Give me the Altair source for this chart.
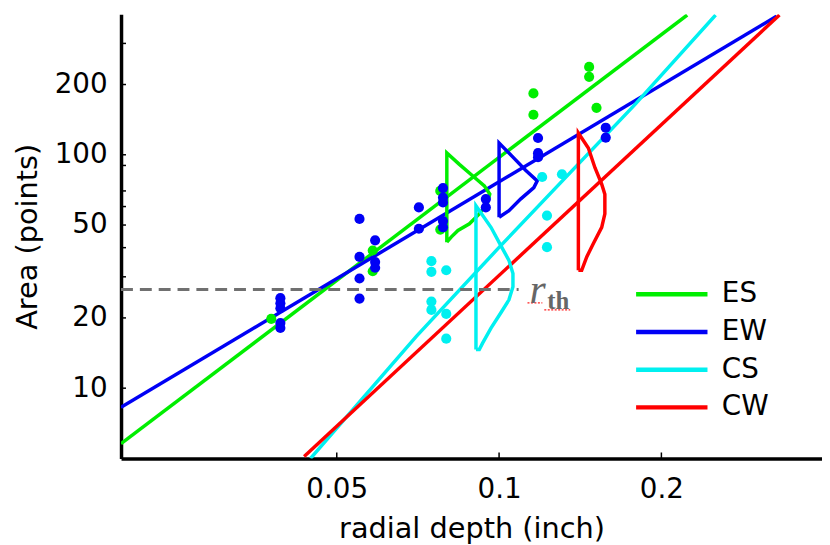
import altair as alt
import pandas as pd

FONT = "DejaVu Sans"

# ---- axes ----
x_domain = [0.0199, 0.3971]
y_domain = [5, 400]
x_label_values = [0.05, 0.1, 0.2]
y_label_values = [10, 20, 50, 100, 200]
y_tick_values = [10, 20, 30, 40, 50, 60, 70, 90, 100, 200, 300]

series_names = ["ES", "EW", "CS", "CW"]
series_colors = ["#00ee00", "#0000f5", "#00f0f0", "#ff0000"]

# ---- fitted power-law lines ----
fit_es_x = [0.0199, 0.2233]
fit_es_y = [5.78, 397.0]
fit_ew_x = [0.0199, 0.327]
fit_ew_y = [8.28, 392.0]
fit_cs_x = [0.0447, 0.0703, 0.1, 0.1784, 0.2521]
fit_cs_y = [5.0, 16.7, 40.1, 163.6, 397.0]
fit_cw_x = [0.0435, 0.3311]
fit_cw_y = [5.1, 397.0]

# ---- distribution outlines ----
dist_es_x = [0.0800, 0.0800, 0.0844, 0.0894, 0.0939, 0.0961, 0.0952, 0.0919, 0.0881, 0.0839, 0.0815, 0.0800]
dist_es_y = [42.2, 101.9, 91.0, 81.1, 73.6, 67.8, 62.5, 55.8, 50.6, 47.4, 44.4, 42.2]
dist_ew_x = [0.1000, 0.1000, 0.1061, 0.1120, 0.1177, 0.1160, 0.1096, 0.1043, 0.1000]
dist_ew_y = [54.0, 112.3, 97.7, 85.8, 77.3, 72.3, 64.6, 57.6, 54.0]
dist_cs_x = [0.0906, 0.0906, 0.0966, 0.1007, 0.1043, 0.1061, 0.1061, 0.1043, 0.1007, 0.0966, 0.0932, 0.0919, 0.0906]
dist_cs_y = [14.65, 60.5, 48.9, 40.9, 35.3, 31.0, 27.2, 23.9, 21.0, 18.1, 15.6, 14.65, 14.65]
dist_cw_x = [0.1403, 0.1403, 0.1464, 0.1506, 0.1550, 0.1571, 0.1571, 0.1550, 0.1495, 0.1454, 0.1423, 0.1403]
dist_cw_y = [32.0, 123.9, 107.0, 88.0, 74.8, 67.8, 55.8, 48.9, 41.6, 36.5, 32.0, 32.0]

# ---- measured points ----
pts_es_x = [0.0378, 0.0583, 0.0583, 0.0778, 0.0778, 0.1158, 0.1158, 0.1469, 0.1469, 0.1516]
pts_es_y = [19.8, 38.9, 31.7, 70.0, 47.8, 183.2, 148.4, 237.9, 215.8, 158.9]
pts_cs_x = [0.0749, 0.0749, 0.0798, 0.0749, 0.0749, 0.0798, 0.0798, 0.1202, 0.1308, 0.1227, 0.1227]
pts_cs_y = [35.0, 31.5, 32.0, 23.5, 21.65, 20.8, 16.3, 80.3, 82.5, 54.9, 40.2]
pts_ew_x = [0.0393, 0.0393, 0.0393, 0.0393, 0.0393,
            0.0551, 0.0551, 0.0551, 0.0551,
            0.0589, 0.0589, 0.0589,
            0.0710, 0.0710,
            0.0787, 0.0787, 0.0787, 0.0787, 0.0787,
            0.0945, 0.0945,
            0.1181, 0.1181, 0.1181,
            0.1577, 0.1577]
pts_ew_y = [24.3, 23.1, 22.0, 19.0, 18.1,
            53.1, 36.5, 29.5, 24.2,
            43.0, 34.7, 32.8,
            59.5, 48.2,
            72.0, 65.6, 62.5, 52.0, 48.9,
            64.6, 59.5,
            118.0, 101.6, 97.7,
            130.6, 118.5]

# ---- threshold ----
rth_x = [0.0199, 0.1087]
rth_y = 26.47
rth_label_x = [0.1139, 0.1229]
# red spell-check squiggles under the label
squig_x = [0.1129, 0.1213]
squig_x2 = [0.1203, 0.1355]
squig_y = [23.2, 21.65]

color_of = dict(zip(series_names, series_colors))

fit_rows = []
for name, xs_, ys_ in [("ES", fit_es_x, fit_es_y), ("EW", fit_ew_x, fit_ew_y),
                       ("CS", fit_cs_x, fit_cs_y), ("CW", fit_cw_x, fit_cw_y)]:
    for i, (a, b) in enumerate(zip(xs_, ys_)):
        fit_rows.append({"series": name, "x": a, "y": b, "i": i})
fit_df = pd.DataFrame(fit_rows)

dist_rows = []
for name, xs_, ys_ in [("ES", dist_es_x, dist_es_y), ("EW", dist_ew_x, dist_ew_y),
                       ("CS", dist_cs_x, dist_cs_y), ("CW", dist_cw_x, dist_cw_y)]:
    for i, (a, b) in enumerate(zip(xs_, ys_)):
        dist_rows.append({"series": name, "color": color_of[name], "x": a, "y": b, "i": i})
dist_df = pd.DataFrame(dist_rows)

pt_rows = []
for name, xs_, ys_ in [("ES", pts_es_x, pts_es_y), ("CS", pts_cs_x, pts_cs_y), ("EW", pts_ew_x, pts_ew_y)]:
    for a, b in zip(xs_, ys_):
        pt_rows.append({"series": name, "color": color_of[name], "x": a, "y": b})
pt_df = pd.DataFrame(pt_rows)

rth_df = pd.DataFrame({"x": [rth_x[0]], "x2": [rth_x[1]], "y": [rth_y]})
squig_df = pd.DataFrame({"x": squig_x, "x2": squig_x2, "y": squig_y})
lab_r = pd.DataFrame({"x": [rth_label_x[0]], "y": [rth_y], "t": ["r"]})
lab_th = pd.DataFrame({"x": [rth_label_x[1]], "y": [rth_y], "t": ["th"]})
ytick_df = pd.DataFrame({"v": y_tick_values})
xtick_df = pd.DataFrame({"v": x_label_values})

W, H = 707, 448

xscale = alt.Scale(type="log", domain=x_domain, nice=False)
yscale = alt.Scale(type="log", domain=y_domain, nice=False)
x_axis = alt.Axis(values=x_label_values, format="~g", title="radial depth (inch)")
y_axis = alt.Axis(values=y_label_values, format="~g", title="Area (points)")


def X(f):
    return alt.X(f, type="quantitative", scale=xscale, axis=x_axis)


def Y(f):
    return alt.Y(f, type="quantitative", scale=yscale, axis=y_axis)


fit = alt.Chart(fit_df).mark_line(strokeWidth=3.5, clip=True).encode(
    x=X("x"), y=Y("y"),
    color=alt.Color("series:N", scale=alt.Scale(domain=series_names, range=series_colors),
                    sort=series_names,
                    legend=alt.Legend(title=None, orient="none", legendX=541, legendY=268,
                                      symbolType="M-3,0H3", symbolSize=576, symbolStrokeWidth=4.5,
                                      labelFont=FONT, labelFontSize=28, labelColor="black",
                                      labelOffset=36, rowPadding=9, padding=0)),
    order="i:Q",
)

dist = alt.Chart(dist_df).mark_line(strokeWidth=3.5, clip=True).encode(
    x=X("x"), y=Y("y"),
    color=alt.Color("color:N", scale=None),
    detail="series:N",
    order="i:Q",
)

dashed = alt.Chart(rth_df).mark_rule(strokeDash=[12, 7], strokeWidth=3, color="#707070").encode(
    x=X("x"), x2="x2:Q", y=Y("y"),
)

squig = alt.Chart(squig_df).mark_rule(strokeDash=[2, 1.5], strokeWidth=1.5, color="#ff2020").encode(
    x=X("x"), x2="x2:Q", y=Y("y"),
)

dots = alt.Chart(pt_df).mark_circle(size=105, opacity=1).encode(
    x=X("x"), y=Y("y"),
    color=alt.Color("color:N", scale=None),
)

yticks = alt.Chart(ytick_df).mark_rule(color="black", strokeWidth=1.5).encode(
    y=Y("v"), x=alt.value(0), x2=alt.value(5),
)
xticks = alt.Chart(xtick_df).mark_rule(color="black", strokeWidth=1.5).encode(
    x=X("v"), y=alt.value(H), y2=alt.value(H - 6),
)

txt_r = alt.Chart(lab_r).mark_text(font="Liberation Serif", fontStyle="italic", fontSize=42,
                                   color="#666666", align="left", baseline="alphabetic", dy=14).encode(
    x=X("x"), y=Y("y"), text="t:N",
)
txt_th = alt.Chart(lab_th).mark_text(font="Liberation Serif", fontWeight="bold", fontSize=25,
                                     color="#666666", align="left", baseline="alphabetic", dy=20).encode(
    x=X("x"), y=Y("y"), text="t:N",
)

chart = alt.layer(fit, dist, dashed, dots, yticks, xticks, squig, txt_r, txt_th).properties(
    width=W, height=H,
    padding={"left": 114, "top": 4, "right": 0, "bottom": 85},
    autosize="none",
).configure_view(stroke=None).configure_axis(
    grid=False, ticks=False, tickSize=0,
    domainColor="black", domainWidth=3.5,
    labelFont=FONT, labelFontSize=28, labelColor="black",
    titleFont=FONT, titleFontSize=29, titleFontWeight="normal", titleColor="black",
).configure_axisX(
    labelPadding=17, titlePadding=12, labelOverlap=False,
).configure_axisY(
    labelPadding=14, titlePadding=12, labelOverlap=False,
)

chart.save("out.html", embed_options={"renderer": "svg", "actions": False})
